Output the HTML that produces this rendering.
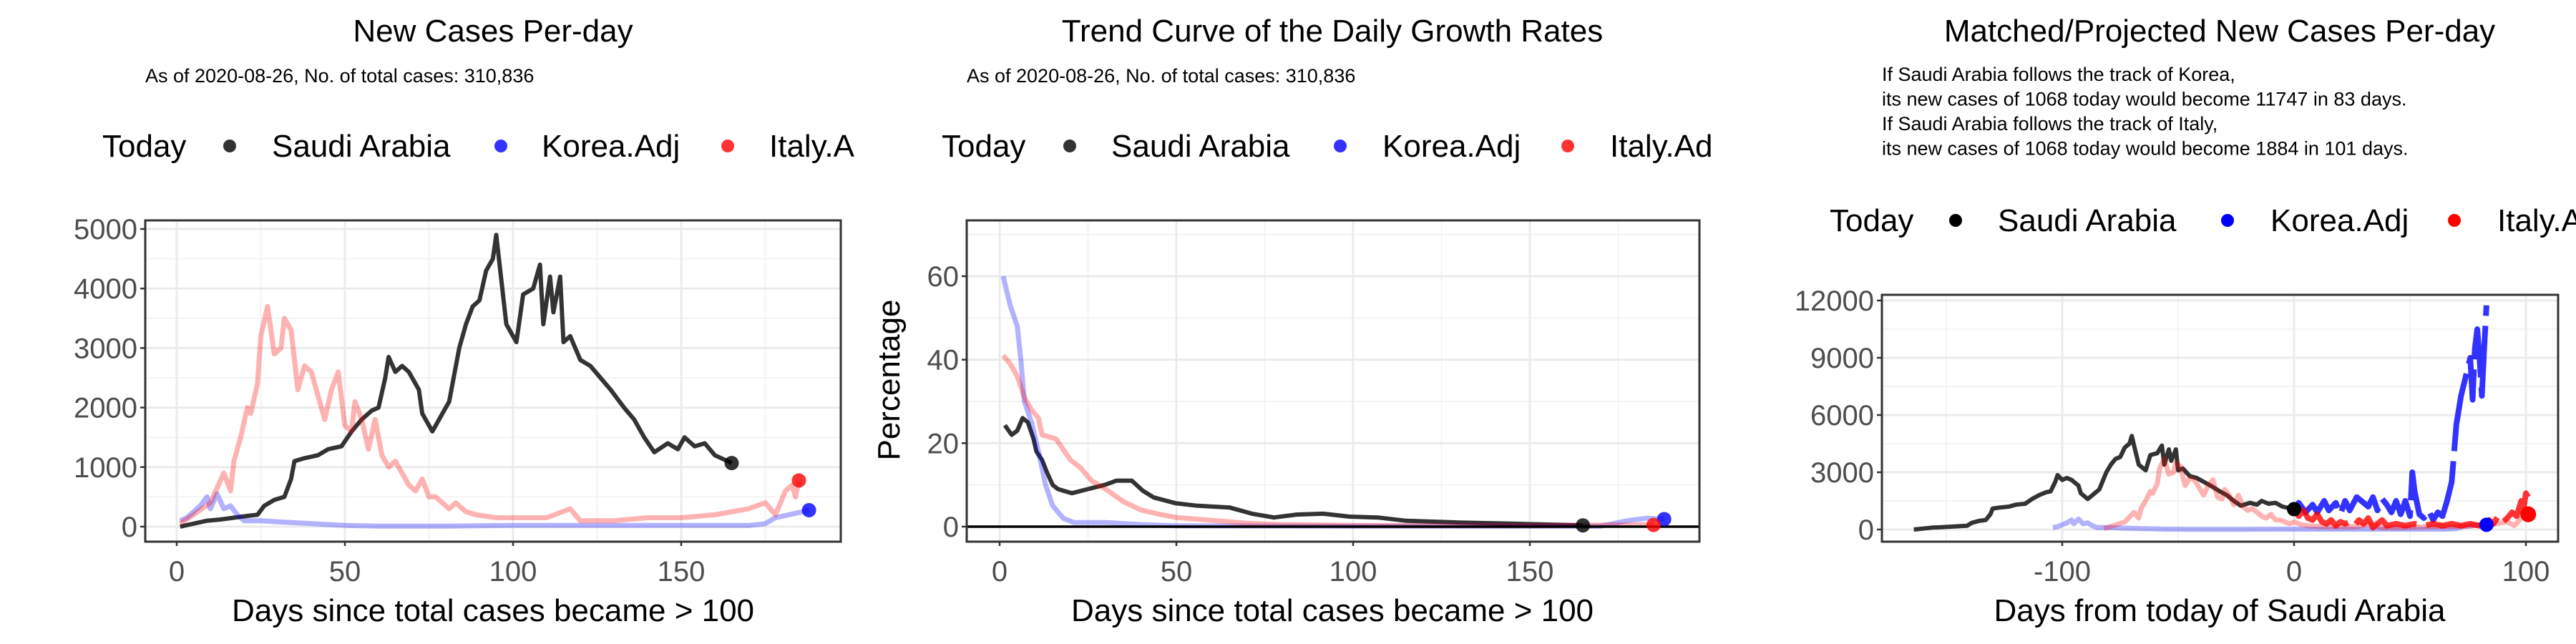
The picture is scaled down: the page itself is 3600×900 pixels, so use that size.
<!DOCTYPE html>
<html><head><meta charset="utf-8"><style>
html,body{margin:0;padding:0;background:#fff;}
svg{display:block;font-family:"Liberation Sans",Arial,sans-serif;}
</style></head><body>
<svg id="root" width="3600" height="900" viewBox="0 0 3600 900" xmlns="http://www.w3.org/2000/svg"></svg>
<script>
// ---------- Panel 1: new cases per day ----------
const p1SaDays = [1,5,9,13,17,21,24,26,29,32,34,35,38,42,45,49,52,55,58,60,62,63,65,67,69,72,73,76,77,79,81,84,86,88,90,92,94,95,96,98,101,103,106,108,109,111,112,114,115,117,120,123,126,129,133,136,139,142,146,149,151,154,157,160,165];
const p1SaVals = [0,50,100,120,150,180,200,350,450,500,800,1100,1150,1200,1300,1350,1600,1800,1950,2000,2500,2850,2600,2700,2600,2300,1900,1600,1700,1900,2100,3000,3400,3700,3800,4300,4500,4900,4400,3400,3100,3900,4000,4400,3400,4200,3600,4200,3100,3200,2800,2700,2500,2300,2000,1800,1500,1250,1400,1300,1500,1350,1400,1200,1068];
const p1KoDays = [1,3,5,7,9,10,12,14,16,18,20,25,30,40,50,60,80,100,150,170,175,178,182,186,188];
const p1KoVals = [100,150,250,350,500,300,550,300,350,200,100,100,80,50,20,10,10,20,20,20,50,150,200,250,280];
const p1ItDays = [1,5,10,14,16,17,19,21,22,24,25,27,29,31,32,34,36,38,40,42,44,46,48,50,52,53,55,57,59,61,63,65,67,69,71,73,75,77,79,81,83,86,89,95,100,110,117,120,130,140,150,160,165,170,175,178,181,183,184,185];
const p1ItVals = [50,200,400,900,600,1100,1500,2000,1900,2400,3200,3700,2900,3000,3500,3300,2300,2700,2600,2200,1800,2300,2600,1700,1600,2100,1800,1300,1800,1200,1000,1100,900,700,600,800,500,500,400,300,400,250,200,150,150,150,300,100,100,150,150,200,250,300,400,200,600,700,500,776];
const p1Today = {sa:[165,1068], ko:[188,276], it:[185,776]};
const p1XTicks = [0,50,100,150];
const p1YTicks = [0,1000,2000,3000,4000,5000];

// ---------- Panel 2: growth rates ----------
const p2SaDays = [1.5,3.4,5,6.5,8,9.6,10.4,12,13.4,15,16.5,20.4,25,29.7,33,37.4,40.5,43.6,49.8,56,65,71.4,77.6,84,91.5,99,107,115,130,145.6,165];
const p2SaVals = [24.3,22,23,26,25,21,18,16,13,10,9,8,9,10,11,11,8.6,7,5.6,5,4.6,3.1,2.2,2.9,3.1,2.4,2.2,1.4,1,0.7,0.3];
const p2KoDays = [1,3,5,6,7,9,11,13,15,18,21,30,40,50,100,150,170,178,183,188];
const p2KoVals = [60,53,48,40,30,25,18,10,5,2,1,1,0.5,0.2,0.1,0.1,0.1,1.5,2,1.8];
const p2ItDays = [1,3,5,7,9,11,12,16,20,23,26,30,35,40,45,50,60,70,80,100,150,185];
const p2ItVals = [41,39,36,31,28,26,22,21,16,14,11,9,6,4,3,2.2,1.5,0.8,0.5,0.3,0.2,0.5];
const p2Today = {sa:[165,0.3], ko:[188,1.8], it:[185,0.4]};
const p2XTicks = [0,50,100,150];
const p2YTicks = [0,20,40,60];

// ---------- Panel 3: matched / projected ----------
const p3SaShift = 165, p3KoShift = 105, p3ItShift = 83;
const p3KoProjDays = [0,2,5,8,10,13,15,18,20,22,24,27,29,32,34,36,38,40,42,44,46,48,50,51,52,54,56,58,60,62,64,66,68,70,72,74,76,77,78,79,80,81,82,83];
const p3KoProjVals = [1068,1400,900,1300,900,1500,1000,1400,800,1500,1000,1700,1500,1200,1700,1000,1600,1300,900,1500,800,1500,700,3000,2000,800,600,1000,500,900,700,1500,2500,5500,7000,8000,9000,6800,9500,10500,9000,7000,9500,11747];
const p3ItProjDays = [0,2,4,6,8,10,12,14,16,18,20,22,24,26,28,30,32,34,36,38,40,44,48,52,56,60,64,68,72,76,80,84,86,88,90,92,94,96,98,99,100,101];
const p3ItProjVals = [1068,700,1000,600,500,800,400,300,500,200,400,300,400,200,500,300,600,100,300,500,200,300,200,300,200,300,200,300,200,300,200,500,300,700,400,600,900,700,1500,1100,1900,1700];
const p3Today = {sa:[0,1068], ko:[83,250], it:[101,800]};
const p3XTicks = [-100,0,100];
const p3YTicks = [0,3000,6000,9000,12000];

const NS = "http://www.w3.org/2000/svg";
const root = document.getElementById('root');
function mk(tag, attrs, parent){
  const e = document.createElementNS(NS, tag);
  for (const k in attrs) e.setAttribute(k, attrs[k]);
  (parent||root).appendChild(e);
  return e;
}
function txt(str, attrs, parent){
  const e = mk('text', attrs, parent);
  e.textContent = str;
  return e;
}
function lin(d0,d1,r0,r1){ return v => r0 + (v-d0)*(r1-r0)/(d1-d0); }
function pathOf(xs, ys, sx, sy){
  return xs.map((d,i)=> (i?'L':'M') + sx(d).toFixed(1) + ',' + sy(ys[i]).toFixed(1)).join(' ');
}

const C_SA='#333333', C_KO_L='rgba(0,0,255,0.3)', C_IT_L='rgba(255,0,0,0.3)';

function panelFrame(g, box, sx, sy, xMajor, xMinor, yMajor, yMinor, xTicks, yTicks){
  const [L,T,R,B] = box;
  const grid = mk('g', {}, g);
  
  
  yMinor.forEach(v=>{ const y=sy(v); if(y>T&&y<B) mk('line',{x1:L,x2:R,y1:y,y2:y,stroke:'#f0f0f0','stroke-width':1.5},grid); });
  xMinor.forEach(v=>{ const x=sx(v); if(x>L&&x<R) mk('line',{x1:x,x2:x,y1:T,y2:B,stroke:'#f0f0f0','stroke-width':1.5},grid); });
  yMajor.forEach(v=>{ const y=sy(v); mk('line',{x1:L,x2:R,y1:y,y2:y,stroke:'#ebebeb','stroke-width':3},grid); });
  xMajor.forEach(v=>{ const x=sx(v); mk('line',{x1:x,x2:x,y1:T,y2:B,stroke:'#ebebeb','stroke-width':3},grid); });
  const xa = mk('g', {}, g);
  
  
  xTicks.forEach(v=>{
    const x=sx(v);
    mk('line',{x1:x,x2:x,y1:B,y2:B+6,stroke:'#333','stroke-width':2.5},xa);
    const t = txt(String(v),{x:x,y:812,'text-anchor':'middle','font-size':40,fill:'#4d4d4d'},xa);
    
    
  });
  const ya = mk('g', {}, g);
  
  
  yTicks.forEach(v=>{
    const y=sy(v);
    mk('line',{x1:L-7,x2:L,y1:y,y2:y,stroke:'#333','stroke-width':2.5},ya);
    const t = txt(String(v),{x:L-11,y:y+14,'text-anchor':'end','font-size':40,fill:'#4d4d4d'},ya);
    
    
  });
}
function border(g, box){
  const [L,T,R,B]=box;
  const r = mk('rect',{x:L,y:T,width:R-L,height:B-T,fill:'none',stroke:'#333','stroke-width':3},g);
  
  
}
function legend(g, y, pos, colors, texts){
  const lg = mk('g', {}, g);
  
  
  const t0 = txt('Today',{x:pos[0],y:y+15,'font-size':44,fill:'#000'},lg);
  
  
  for(let i=0;i<3;i++){
    const c = mk('circle',{cx:pos[1+2*i],cy:y,r:9,fill:colors[i]},lg);
    
    
    const t = txt(texts[i],{x:pos[2+2*i],y:y+15,'font-size':44,fill:'#000'},lg);
    
    
  }
}
function series(g, xs, ys, sx, sy, color, w, name, dash){
  const a = {d:pathOf(xs,ys,sx,sy),fill:'none',stroke:color,'stroke-width':w,'stroke-linejoin':'round','stroke-linecap':'butt'};
  if (dash) a['stroke-dasharray']=dash;
  const p = mk('path',a,g);
  
  
  return p;
}
function dot(g, pt, sx, sy, color, name, r){
  const c = mk('circle',{cx:sx(pt[0]),cy:sy(pt[1]),r:r||10,fill:color},g);
  
  
}
function clip(id, box){
  const d = mk('defs',{});
  const cp = mk('clipPath',{id:id},d);
  mk('rect',{x:box[0],y:box[1],width:box[2]-box[0],height:box[3]-box[1]},cp);
}

// ===== Panel 1 =====
{
  const g = mk('g',{});
  
  
  const box=[203,308,1175,757];
  const sx = lin(0,50,247,482), sy = lin(0,5000,736,320);
  const t = txt('New Cases Per-day',{x:689,y:58,'text-anchor':'middle','font-size':44,fill:'#000'},g);
  
  
  const s = txt('As of 2020-08-26, No. of total cases: 310,836',{x:203,y:115,'font-size':27,fill:'#000'},g);
  
  
  legend(g,204,[143,321,380,700,757,1017,1075],['rgba(0,0,0,0.8)','rgba(0,0,255,0.8)','rgba(255,0,0,0.8)'],['Saudi Arabia','Korea.Adj','Italy.A']);
  panelFrame(g,box,sx,sy,[0,50,100,150],[25,75,125,175],p1YTicks,[500,1500,2500,3500,4500],p1XTicks,p1YTicks);
  clip('c1',box);
  const pg = mk('g',{'clip-path':'url(#c1)'},g);
  series(pg,p1SaDays,p1SaVals,sx,sy,C_SA,6,'saudi-line');
  series(pg,p1KoDays,p1KoVals,sx,sy,C_KO_L,7,'korea-line');
  series(pg,p1ItDays,p1ItVals,sx,sy,C_IT_L,7,'italy-line');
  dot(pg,p1Today.sa,sx,sy,'rgba(0,0,0,0.8)','saudi-today-point');
  dot(pg,p1Today.ko,sx,sy,'rgba(0,0,255,0.8)','korea-today-point');
  dot(pg,p1Today.it,sx,sy,'rgba(255,0,0,0.8)','italy-today-point');
  border(g,box);
  const xt = txt('Days since total cases became > 100',{x:689,y:868,'text-anchor':'middle','font-size':44,fill:'#000'},g);
  
  
}
// ===== Panel 2 =====
{
  const g = mk('g',{});
  
  
  const box=[1351,308,2375,757];
  const sx = lin(0,50,1397,1644), sy = lin(0,60,736,386);
  const t = txt('Trend Curve of the Daily Growth Rates',{x:1862,y:58,'text-anchor':'middle','font-size':44,fill:'#000'},g);
  
  
  const s = txt('As of 2020-08-26, No. of total cases: 310,836',{x:1351,y:115,'font-size':27,fill:'#000'},g);
  
  
  legend(g,204,[1316,1495,1553,1873,1932,2191,2250],['rgba(0,0,0,0.8)','rgba(0,0,255,0.8)','rgba(255,0,0,0.8)'],['Saudi Arabia','Korea.Adj','Italy.Ad']);
  panelFrame(g,box,sx,sy,[0,50,100,150],[25,75,125,175],p2YTicks,[10,30,50,70],p2XTicks,p2YTicks);
  clip('c2',box);
  const pg = mk('g',{'clip-path':'url(#c2)'},g);
  series(pg,p2SaDays,p2SaVals,sx,sy,C_SA,6,'saudi-line');
  series(pg,p2KoDays,p2KoVals,sx,sy,C_KO_L,7,'korea-line');
  series(pg,p2ItDays,p2ItVals,sx,sy,C_IT_L,7,'italy-line');
  const zl = mk('line',{x1:1351,x2:2375,y1:sy(0),y2:sy(0),stroke:'#000','stroke-width':3.5},pg);
  
  
  dot(pg,p2Today.sa,sx,sy,'rgba(0,0,0,0.8)','saudi-today-point');
  dot(pg,p2Today.ko,sx,sy,'rgba(0,0,255,0.8)','korea-today-point');
  dot(pg,p2Today.it,sx,sy,'rgba(255,0,0,0.8)','italy-today-point');
  border(g,box);
  const yt = txt('Percentage',{x:0,y:0,'text-anchor':'middle','font-size':44,fill:'#000',transform:'translate(1257,531) rotate(-90)'},g);
  
  
  const xt = txt('Days since total cases became > 100',{x:1862,y:868,'text-anchor':'middle','font-size':44,fill:'#000'},g);
  
  
}
// ===== Panel 3 =====
{
  const g = mk('g',{});
  
  
  const box=[2630,412,3575,757];
  const sx = lin(0,100,3206,3530), sy = lin(0,12000,740,420);
  const t = txt('Matched/Projected New Cases Per-day',{x:3102,y:58,'text-anchor':'middle','font-size':44,fill:'#000'},g);
  
  
  const lines=['If Saudi Arabia follows the track of Korea,','its new cases of 1068 today would become 11747 in 83 days.','If Saudi Arabia follows the track of Italy,','its new cases of 1068 today would become 1884 in 101 days.'];
  lines.forEach((l,i)=>{
    const a = txt(l,{x:2630,y:113+i*34.5,'font-size':27,fill:'#000'},g);
    
    
  });
  legend(g,308,[2557,2733,2792,3113,3173,3430,3490],['#000','#0000ff','#ff0000'],['Saudi Arabia','Korea.Adj','Italy.A']);
  panelFrame(g,box,sx,sy,[-100,0,100],[-150,-50,50],p3YTicks,[1500,4500,7500,10500],p3XTicks,p3YTicks);
  clip('c3',box);
  const pg = mk('g',{'clip-path':'url(#c3)'},g);
  series(pg,p1SaDays.map(d=>d-p3SaShift),p1SaVals,sx,sy,C_SA,6,'saudi-line');
  series(pg,p1KoDays.map(d=>d-p3KoShift),p1KoVals,sx,sy,C_KO_L,7,'korea-line');
  series(pg,p1ItDays.map(d=>d-p3ItShift),p1ItVals,sx,sy,C_IT_L,7,'italy-line');
  series(pg,p3KoProjDays,p3KoProjVals,sx,sy,'rgba(0,0,255,0.8)',8,'korea-projection-line','110 14');
  series(pg,p3ItProjDays,p3ItProjVals,sx,sy,'rgba(255,0,0,0.8)',8,'italy-projection-line','110 14');
  dot(pg,p3Today.sa,sx,sy,'#000','saudi-today-point');
  dot(pg,p3Today.ko,sx,sy,'#0000ff','korea-today-point');
  dot(pg,p3Today.it,sx,sy,'#ff0000','italy-today-point',11);
  border(g,box);
  const xt = txt('Days from today of Saudi Arabia',{x:3102,y:868,'text-anchor':'middle','font-size':44,fill:'#000'},g);
  
  
}
</script>
</body></html>
